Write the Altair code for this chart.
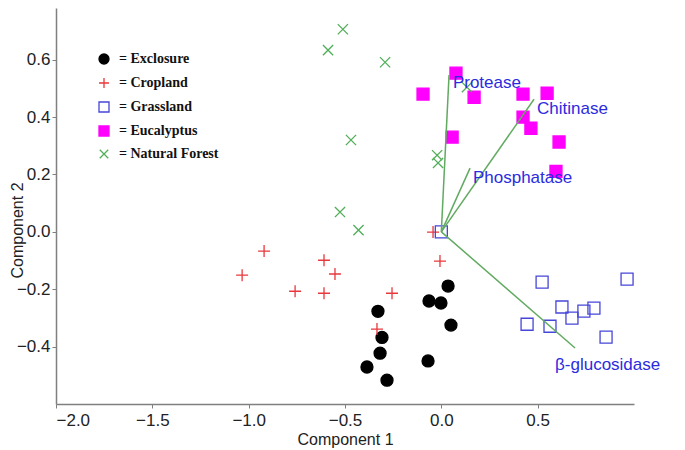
import altair as alt
import pandas as pd

groups = ["Exclosure", "Cropland", "Grassland", "Eucalyptus", "Natural Forest"]

excl_x = [-0.329, -0.308, -0.318, -0.386, -0.282, 0.035, -0.064, -0.002, 0.050, -0.069]
excl_y = [-0.277, -0.368, -0.423, -0.471, -0.517, -0.189, -0.241, -0.248, -0.325, -0.450]

crop_x = [-0.920, -1.034, -0.609, -0.552, -0.759, -0.609, -0.334, -0.043, -0.007, -0.256]
crop_y = [-0.067, -0.151, -0.099, -0.147, -0.207, -0.214, -0.339, -0.001, -0.102, -0.214]

grass_x = [0.000, 0.523, 0.964, 0.626, 0.740, 0.792, 0.678, 0.445, 0.564, 0.855]
grass_y = [0.000, -0.175, -0.165, -0.262, -0.276, -0.266, -0.301, -0.322, -0.329, -0.367]

euc_x = [0.076, -0.095, 0.170, 0.424, 0.549, 0.424, 0.465, 0.611, 0.056, 0.595]
euc_y = [0.553, 0.480, 0.469, 0.480, 0.483, 0.400, 0.361, 0.313, 0.330, 0.211]

nf_x = [-0.511, -0.588, -0.292, -0.469, -0.526, -0.430, -0.022, -0.017, 0.133]
nf_y = [0.706, 0.633, 0.591, 0.320, 0.069, 0.006, 0.267, 0.240, 0.504]

enzymes = ["Protease", "Chitinase", "Phosphatase", "β-glucosidase"]
vec_x = [0.040, 0.481, 0.149, 0.694]
vec_y = [0.546, 0.462, 0.222, -0.405]
lab_x = [0.060, 0.497, 0.164, 0.590]
lab_y = [0.518, 0.427, 0.187, -0.464]

x_ticks = [-2.0, -1.5, -1.0, -0.5, 0.0, 0.5]
y_ticks = [-0.4, -0.2, 0.0, 0.2, 0.4, 0.6]

rows = []
for g, xs, ys in zip(groups, [excl_x, crop_x, grass_x, euc_x, nf_x],
                     [excl_y, crop_y, grass_y, euc_y, nf_y]):
    for a, b in zip(xs, ys):
        rows.append({"group": g, "c1": a, "c2": b})
pts = pd.DataFrame(rows)

vec = pd.DataFrame({"enzyme": enzymes, "x0": [0.0] * 4, "y0": [0.0] * 4,
                    "x1": vec_x, "y1": vec_y, "lx": lab_x, "ly": lab_y})

plus_path = "M-1,0L1,0M0,-1L0,1"
x_path = "M-0.85,-0.85L0.85,0.85M-0.85,0.85L0.85,-0.85"

shape_range = ["circle", plus_path, "square", "square", x_path]
stroke_range = ["#000000", "#e8383d", "#4646d8", "#ff00ff", "#4fae57"]
fill_range = ["#000000", "transparent", "transparent", "#ff00ff", "transparent"]

leg = alt.Legend(
    title=None, orient="none", legendX=41, legendY=44,
    labelFont="Liberation Serif", labelFontWeight="bold", labelFontSize=14,
    labelColor="#111111", labelExpr="'= ' + datum.label",
    symbolSize=100, symbolStrokeWidth=1.3, rowPadding=8, labelOffset=8,
    padding=0,
)

xscale = alt.Scale(domain=[-2.0, 1.0], nice=False, zero=False)
yscale = alt.Scale(domain=[-0.6, 0.78], nice=False, zero=False)

xaxis = alt.Axis(title="Component 1", values=x_ticks, format=".1f", grid=False,
                 labelPadding=4, titleY=35, titleAlign="center", titleBaseline="middle",
                 titleFontSize=16)
yaxis = alt.Axis(title="Component 2", values=y_ticks, format=".1f", grid=False,
                 titleX=-39, titleY=222, titleAngle=270, titleAlign="center",
                 titleBaseline="middle", titleFontSize=16)

points = alt.Chart(pts).mark_point(size=144, strokeWidth=1.3, opacity=1).encode(
    x=alt.X("c1:Q", scale=xscale, axis=xaxis),
    y=alt.Y("c2:Q", scale=yscale, axis=yaxis),
    shape=alt.Shape("group:N", scale=alt.Scale(domain=groups, range=shape_range), legend=leg),
    stroke=alt.Stroke("group:N", scale=alt.Scale(domain=groups, range=stroke_range), legend=leg),
    fill=alt.Fill("group:N", scale=alt.Scale(domain=groups, range=fill_range), legend=leg),
)

rules = alt.Chart(vec).mark_rule(color="#62aa62", strokeWidth=1.5).encode(
    x=alt.X("x0:Q", scale=xscale),
    y=alt.Y("y0:Q", scale=yscale),
    x2="x1:Q",
    y2="y1:Q",
)

labels = alt.Chart(vec).mark_text(
    align="left", baseline="middle", font="Liberation Sans", fontSize=17, color="#2b2be0"
).encode(
    x=alt.X("lx:Q", scale=xscale),
    y=alt.Y("ly:Q", scale=yscale),
    text="enzyme:N",
)

chart = alt.layer(points, rules, labels).properties(
    width=578, height=396,
    autosize=alt.AutoSizeParams(type="none"),
    padding={"left": 48, "top": 0, "right": 43, "bottom": 44},
).configure_view(stroke=None).configure_axis(
    labelFont="Liberation Sans", labelFontSize=17, labelColor="#222222",
    titleFont="Liberation Sans", titleFontWeight="normal", titleColor="#222222",
    domainColor="#808080", domainWidth=1.5, tickColor="#808080", tickSize=4, labelPadding=2,
)

chart.save("out.html", embed_options={"renderer": "svg", "actions": False})
